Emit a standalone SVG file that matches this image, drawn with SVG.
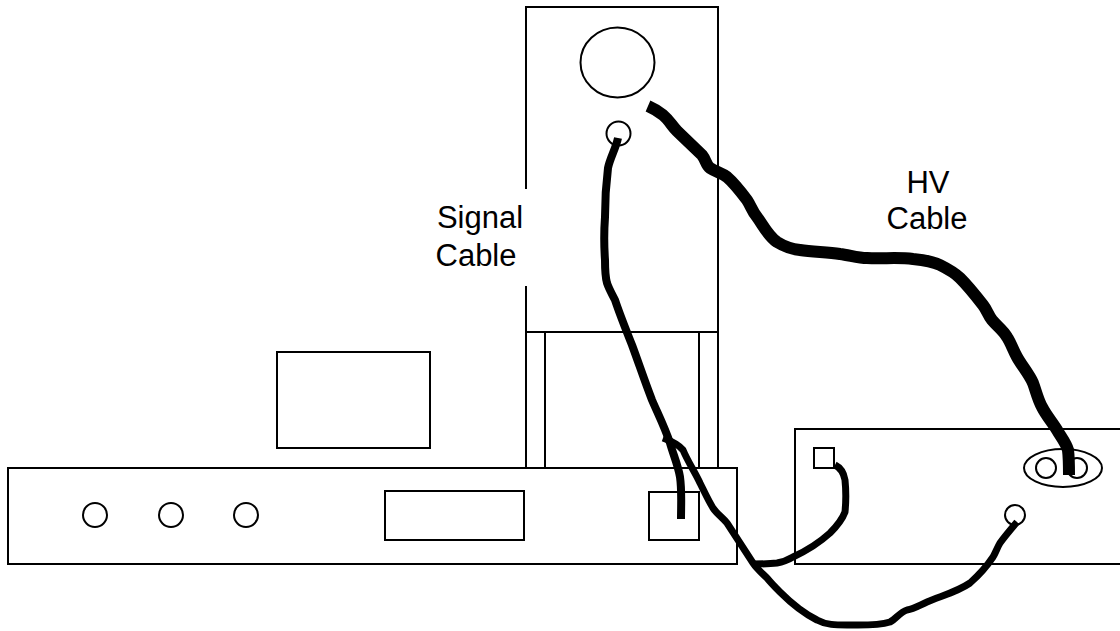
<svg xmlns="http://www.w3.org/2000/svg" width="1120" height="631" viewBox="0 0 1120 631">
<style>
.s{fill:none;stroke:#000;stroke-width:2}
.c{fill:none;stroke:#000;stroke-linejoin:round}
text{font-family:"Liberation Sans",Arial,sans-serif;font-size:31px;fill:#000;text-anchor:middle}
</style>
<rect width="1120" height="631" fill="#fff"/>
<g id="detector-housing">
<path class="s" d="M526 189V7H718V332H526V286"/>
<ellipse class="s" cx="617.500" cy="62.500" rx="37" ry="35"/>
<circle class="s" cx="618.500" cy="133.500" r="12"/>
</g>
<g id="stand">
<path class="s" d="M526 332V468M545 332V468M699 332V468M718 332V468"/>
</g>
<g id="upper-box"><rect class="s" x="277" y="352" width="153" height="96"/></g>
<g id="left-unit">
<rect class="s" x="8" y="468" width="729" height="96"/>
<circle class="s" cx="95" cy="515" r="12"/>
<circle class="s" cx="171" cy="515" r="12"/>
<circle class="s" cx="246" cy="515" r="12"/>
<rect class="s" x="385" y="491" width="139" height="49"/>
<rect class="s" x="649" y="492" width="50" height="48"/>
</g>
<g id="right-unit">
<path class="s" d="M1120 429H795V564H1120"/>
<rect class="s" x="814" y="448" width="20" height="20"/>
<ellipse class="s" cx="1063" cy="468" rx="39" ry="19"/>
<circle class="s" cx="1046" cy="468" r="10"/>
<circle class="s" cx="1077" cy="468" r="10"/>
<circle class="s" cx="1015" cy="515" r="10"/>
</g>
<g id="connectors">
<path class="c" stroke-width="12" d="M648 106C655 109 659 112 663 115C669 120 672 126 677 131L702 155C706 160 706 165 710 168C716 172 722 173 727 177C734 183 741 192 747 200C751 206 752 211 757 217C763 225 768 236 777 242C785 247 791 249 800 250C813 252 827 252 840 254C849 255 858 258 867 258C882 259 898 257 913 259C923 260 932 261 940 265C948 269 954 272 960 278C968 286 976 296 983 305C987 310 988 315 992 320C997 326 1003 330 1007 337C1011 343 1013 350 1017 357C1022 366 1029 374 1033 383C1036 391 1038 400 1042 407C1046 415 1052 422 1057 430C1061 437 1066 443 1068 450C1069 458 1069 467 1069 475"/>
<path class="c" stroke-width="8" d="M618 138C616 148 610 158 608 168C606 184 605 200 605 217C604 231 604 246 605 260C605 268 605 276 607 283C609 289 612 294 615 300C620 315 626 330 632 345C639 364 645 382 652 400C658 414 665 428 670 443C673 454 678 465 680 477C682 491 681 505 681 519"/>
<path class="c" stroke-width="7" d="M1017 522C1011 529 1005 536 1000 543C997 548 996 552 993 557C987 566 979 575 970 583C957 592 941 596 927 602C920 605 914 609 907 610C900 612 896 619 890 622C877 626 861 625 847 625C836 625 826 625 817 620C803 613 791 603 780 592C775 587 771 583 767 578C762 573 757 569 753 563L727 523C722 517 717 514 713 508C708 500 704 491 700 483C695 472 688 462 683 450C679 445 674 442 663 438"/>
<path class="c" stroke-width="7" d="M835 465C841 468 844 474 845 480C846 490 846 502 845 512C842 520 836 527 830 533C819 543 806 551 793 557C788 560 783 562 777 563C769 564 761 564 753 564"/>
</g>
<g id="labels">
<text x="480" y="228">Signal</text>
<text x="476" y="266">Cable</text>
<text x="928" y="193">HV</text>
<text x="927" y="229">Cable</text>
</g>
</svg>
